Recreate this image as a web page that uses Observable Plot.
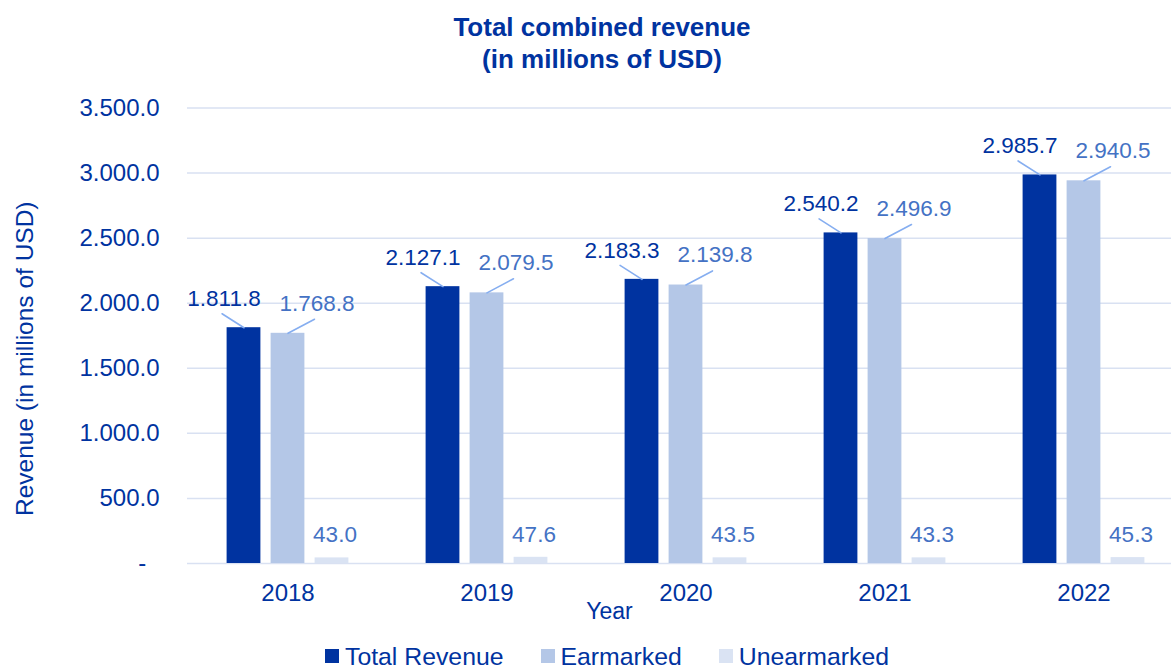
<!DOCTYPE html>
<html>
<head>
<meta charset="utf-8">
<script src="https://cdn.jsdelivr.net/npm/d3@7"></script>
<script src="https://cdn.jsdelivr.net/npm/@observablehq/plot@0.6"></script>
<style>
  html, body { margin: 0; padding: 0; background: #fff; overflow: hidden; }
  body { width: 1171px; height: 671px; font-family: "Liberation Sans", Arial, sans-serif; color: #0033a0; }
  #title { box-sizing: border-box; width: 1171px; height: 90px; padding-top: 11px; padding-left: 33px;
           text-align: center; font-size: 26px; font-weight: bold; line-height: 32px; }
  #chart svg { display: block; }
  #legend { height: 41px; box-sizing: border-box; padding-top: 15px; padding-left: 325px;
            font-size: 24.8px; line-height: 24px; white-space: nowrap; }
  .item { display: inline; margin-right: 37px; }
  .sw { display: inline-block; width: 14px; height: 14px; margin-right: 6px; margin-bottom: 2px; vertical-align: baseline; }
</style>
</head>
<body>
<div id="title">Total combined revenue<br>(in millions of USD)</div>
<div id="chart"></div>
<div id="legend"></div>
<script>
// ---- data ----
const years = ["2018", "2019", "2020", "2021", "2022"];
const totalRevenue = [1811.8, 2127.1, 2183.3, 2540.2, 2985.7];
const earmarked = [1768.8, 2079.5, 2139.8, 2496.9, 2940.5];
const unearmarked = [43.0, 47.6, 43.5, 43.3, 45.3];
const seriesNames = ["Total Revenue", "Earmarked", "Unearmarked"];
const yTicks = [0, 500, 1000, 1500, 2000, 2500, 3000, 3500];

// ---- styling ----
const colors = ["#0033a0", "#b4c7e7", "#dae3f3"];
const labelColors = ["#0033a0", "#4472c4", "#4472c4"];
const barOffset = [-44, 0, 44];
const leaderColor = "#86aef0";

const fmt = v => v === 0 ? "-\u00a0\u00a0" : d3.format(",.1f")(v).replace(/,/g, ".");

const seriesValues = [totalRevenue, earmarked, unearmarked];
const rows = seriesValues.map((vals, i) => years.map((year, j) => ({year, series: seriesNames[i], value: vals[j]})));

const lineShape = { draw(context, l) { context.moveTo(0, 0); context.lineTo(0, -l); } };

const bandInset = 82.6;

const marks = [
  Plot.ruleY(yTicks, {stroke: "#d9e1f2", strokeWidth: 1.5}),
  Plot.axisY(yTicks, {tickSize: 0, tickPadding: 28, tickFormat: fmt, fontSize: 24, label: null}),
  Plot.axisX({tickSize: 0, tickPadding: 20, fontSize: 24, label: null}),
];
rows.forEach((data, i) => {
  marks.push(Plot.barY(data, {x: "year", y: "value", fill: colors[i], dx: barOffset[i], insetLeft: bandInset, insetRight: bandInset}));
});
// leader lines
marks.push(Plot.vector(rows[0], {x: "year", y: "value", dx: -44, length: 26, rotate: -57.5, anchor: "start",
  shape: lineShape, stroke: leaderColor, strokeWidth: 1.6}));
marks.push(Plot.vector(rows[1], {x: "year", y: "value", dx: 0, length: 30, rotate: 62, anchor: "start",
  shape: lineShape, stroke: leaderColor, strokeWidth: 1.6}));
// value labels
marks.push(Plot.text(rows[0], {x: "year", y: "value", text: d => fmt(d.value), dx: -64, dy: -29, fill: labelColors[0], fontSize: 22.5}));
marks.push(Plot.text(rows[1], {x: "year", y: "value", text: d => fmt(d.value), dx: 29, dy: -30, fill: labelColors[1], fontSize: 22.5}));
marks.push(Plot.text(rows[2], {x: "year", y: "value", text: d => fmt(d.value), dx: 47, dy: -23, fill: labelColors[2], fontSize: 22.5}));
// axis titles
marks.push(Plot.text(["Year"], {frameAnchor: "bottom", text: d => d, dx: -70, dy: 48, fontSize: 23, lineAnchor: "middle"}));
marks.push(Plot.text(["Revenue (in millions of USD)"], {frameAnchor: "left", text: d => d, rotate: -90, textAnchor: "middle",
  lineAnchor: "middle", dx: -162, dy: 23, fontSize: 24.5}));

const chart = Plot.plot({
  width: 1171,
  height: 540,
  marginLeft: 187,
  marginRight: 0,
  marginTop: 17.5,
  marginBottom: 67,
  x: {type: "band", domain: years, range: [187.4, 1183.6], padding: 0},
  y: {domain: [0, 3500]},
  style: {fontFamily: "'Liberation Sans', Arial, sans-serif", fontSize: "23px", color: "#0033a0", background: "white", overflow: "visible"},
  marks
});
document.getElementById("chart").appendChild(chart);

// legend
const legend = document.getElementById("legend");
seriesNames.forEach((name, i) => {
  const item = document.createElement("span");
  item.className = "item";
  const sw = document.createElement("span");
  sw.className = "sw";
  sw.style.background = colors[i];
  item.appendChild(sw);
  item.appendChild(document.createTextNode(name));
  legend.appendChild(item);
});
</script>
</body>
</html>
